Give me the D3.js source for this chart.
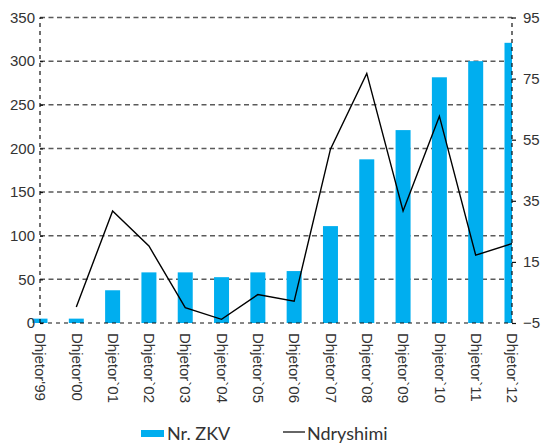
<!DOCTYPE html>
<html>
<head>
<meta charset="utf-8">
<script src="https://cdn.jsdelivr.net/npm/d3@7"></script>
<style>
  body { margin: 0; background: #fff; }
  svg { display: block; font-family: Lato, "Noto Sans", sans-serif; }
</style>
</head>
<body>
<svg id="chart"></svg>
<script>
// data
const categories = ["Dhjetor'99", "Dhjetor'00", "Dhjetor`01", "Dhjetor`02", "Dhjetor`03", "Dhjetor`04", "Dhjetor`05",
  "Dhjetor`06", "Dhjetor`07", "Dhjetor`08", "Dhjetor`09", "Dhjetor`10", "Dhjetor`11", "Dhjetor`12"];
const nrZKV = [5, 5, 37.5, 58, 58, 52.5, 58, 59.5, 111, 187.5, 221, 281.5, 300, 321];
const ndryshimi = [null, 0.2, 31.7, 20.2, 0, -3.8, 4.3, 2.1, 51.9, 76.7, 31.7, 62.7, 17.2, 21];
const leftTicks = [0, 50, 100, 150, 200, 250, 300, 350];
const rightTicks = [-5, 15, 35, 55, 75, 95];

const width = 542, height = 444;
const margin = {top: 17.5, right: 30, bottom: 121, left: 40};

const svg = d3.select('#chart')
  .attr('width', width)
  .attr('height', height);

const x = d3.scalePoint()
  .domain(categories)
  .range([margin.left, width - margin.right]);

const yLeft = d3.scaleLinear()
  .domain([0, 350])
  .range([height - margin.bottom, margin.top]);

const yRight = d3.scaleLinear()
  .domain([-5, 95])
  .range([height - margin.bottom, margin.top]);

const barWidth = 15;

// clip so the last bar is cut at the right axis
svg.append('clipPath').attr('id', 'plotclip')
  .append('rect')
  .attr('x', 0).attr('y', 0)
  .attr('width', width - margin.right)
  .attr('height', height);

// horizontal grid
svg.append('g')
  .selectAll('line')
  .data(leftTicks.filter(d => d > 0))
  .enter().append('line')
  .attr('x1', margin.left)
  .attr('x2', width - margin.right)
  .attr('y1', d => yLeft(d))
  .attr('y2', d => yLeft(d))
  .attr('stroke', '#5a5a5a')
  .attr('stroke-width', 1.5)
  .attr('stroke-dasharray', '5,3.5');

// bars
svg.append('g')
  .attr('clip-path', 'url(#plotclip)')
  .selectAll('rect')
  .data(nrZKV)
  .enter().append('rect')
  .attr('x', (d, i) => x(categories[i]) - barWidth / 2)
  .attr('y', d => yLeft(d))
  .attr('width', barWidth)
  .attr('height', d => yLeft(0) - yLeft(d))
  .attr('fill', '#00aeef');

// line
const line = d3.line()
  .defined(d => d != null)
  .x((d, i) => x(categories[i]))
  .y(d => yRight(d));

svg.append('path')
  .datum(ndryshimi)
  .attr('d', line)
  .attr('fill', 'none')
  .attr('stroke', '#000')
  .attr('stroke-width', 1.4);

// axes
const axisLeft = d3.axisLeft(yLeft).tickValues(leftTicks).tickSize(-3).tickPadding(5);
const gL = svg.append('g')
  .attr('transform', `translate(${margin.left},0)`)
  .call(axisLeft);

const axisRight = d3.axisRight(yRight).tickValues(rightTicks).tickSize(4).tickPadding(7);
const gR = svg.append('g')
  .attr('transform', `translate(${width - margin.right},0)`)
  .call(axisRight);

const axisBottom = d3.axisBottom(x).tickSize(0).tickPadding(0);
const gB = svg.append('g')
  .attr('transform', `translate(0,${height - margin.bottom})`)
  .call(axisBottom);

[gL, gR, gB].forEach(g => {
  g.select('.domain')
    .attr('stroke', '#111')
    .attr('stroke-width', 1.2)
    .attr('stroke-dasharray', '4,4');
  g.selectAll('.tick line').attr('stroke', '#111').attr('stroke-width', 1.2);
  g.selectAll('text')
    .attr('fill', '#333')
    .style('font-size', '15px');
});
gB.select('.domain').attr('d', `M${margin.left},0H${width - margin.right}`);
gL.select('.domain').attr('d', `M0,${yLeft(0)}V${yLeft(350)}`);
gR.select('.domain').attr('d', `M0,${yRight(-5)}V${yRight(95)}`);

gB.selectAll('.tick text')
  .attr('transform', 'rotate(90)')
  .attr('text-anchor', 'start')
  .attr('x', 10)
  .attr('y', 0)
  .attr('dy', '0.35em')
  .style('font-size', '15px');

// legend
const legend = svg.append('g');
legend.append('rect')
  .attr('x', 141).attr('y', 430)
  .attr('width', 23).attr('height', 7)
  .attr('fill', '#00aeef');
legend.append('text')
  .attr('x', 167).attr('y', 440)
  .attr('fill', '#333')
  .style('font-size', '18px')
  .text('Nr. ZKV');
legend.append('line')
  .attr('x1', 283).attr('x2', 305)
  .attr('y1', 432).attr('y2', 432)
  .attr('stroke', '#333').attr('stroke-width', 1.5);
legend.append('text')
  .attr('x', 307).attr('y', 440)
  .attr('fill', '#333')
  .style('font-size', '18px')
  .text('Ndryshimi');
</script>
</body>
</html>
